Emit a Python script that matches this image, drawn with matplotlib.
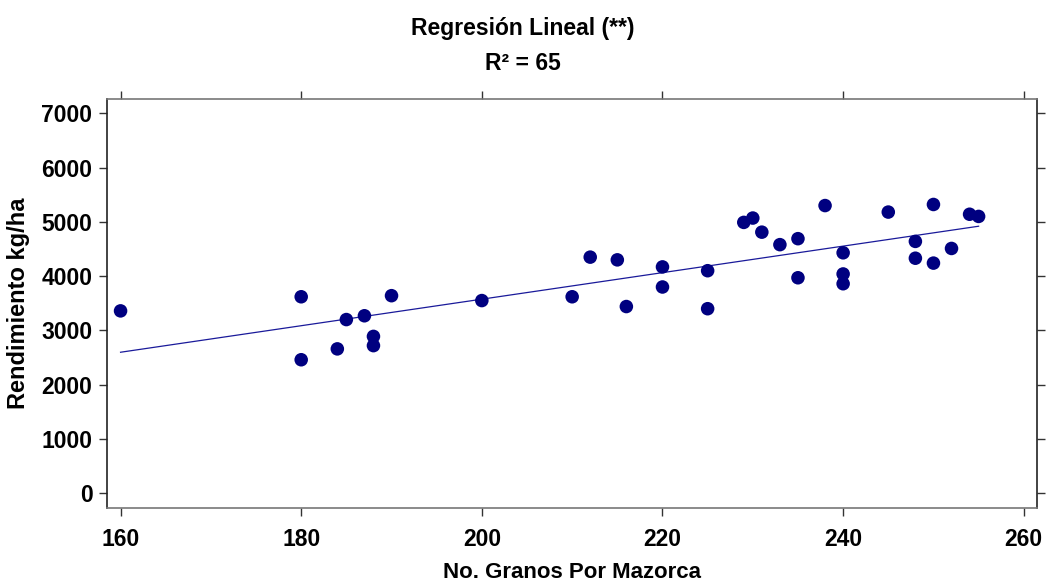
import numpy as np
import matplotlib
matplotlib.use("Agg")
import matplotlib.pyplot as plt

plt.rcParams['font.family'] = ['Liberation Sans', 'DejaVu Sans']
plt.rcParams['font.weight'] = 'bold'

# granos por mazorca vs rendimiento (kg/ha)
granos = [160, 180, 180, 184, 185, 187, 188, 188, 190, 200, 210, 212, 215, 216,
          220, 220, 225, 225, 229, 230, 231, 233, 235, 235, 238, 240, 240, 240,
          245, 248, 248, 250, 250, 252, 254, 255]
rendimiento = [3360, 3620, 2460, 2660, 3200, 3270, 2890, 2720, 3640, 3550, 3620, 4350,
               4300, 3440, 4170, 3800, 4100, 3400, 4990, 5070, 4810, 4580, 4690, 3970,
               5300, 4430, 4040, 3860, 5180, 4640, 4330, 5320, 4240, 4510, 5140, 5100]
x_ticks = [160, 180, 200, 220, 240, 260]
y_ticks = [0, 1000, 2000, 3000, 4000, 5000, 6000, 7000]

fig = plt.figure(figsize=(10.46, 5.83), dpi=100)
ax = fig.add_axes([0.1023, 0.1292, 0.8894, 0.701])

x = np.array(granos)
y = np.array(rendimiento)
b, a = np.polyfit(x, y, 1)
xl = np.array([x.min(), x.max()])
ax.plot(xl, a + b * xl, color='#1a1a9a', lw=0.9, zorder=2)
ax.scatter(x, y, s=95, color='#000080', edgecolors='none', zorder=3)

ax.set_xlim(158.5, 261.5)
ax.set_ylim(-265, 7263)
ax.set_xticks(x_ticks)
ax.set_yticks(y_ticks)
ax.tick_params(axis='both', which='both', direction='out', length=5.5, width=1,
               color='#333333', labelsize=16.5, top=True, right=True,
               labeltop=False, labelright=False)
ax.tick_params(axis='x', pad=9)
ax.tick_params(axis='y', pad=5)
for lab in ax.get_xticklabels() + ax.get_yticklabels():
    lab.set_fontweight('bold')
for s in ['left', 'right']:
    ax.spines[s].set_color('#222222')
for s in ['top', 'bottom']:
    ax.spines[s].set_color('#777777')
for s in ax.spines.values():
    s.set_linewidth(1.2)

ax.set_xlabel('No. Granos Por Mazorca', fontsize=16, fontweight='bold', labelpad=8)
ax.set_ylabel('Rendimiento kg/ha', fontsize=17, fontweight='bold', labelpad=8)

fig.text(0.5, 1 - 28 / 583, 'Regresión Lineal (**)', ha='center', va='center',
         fontsize=16.5, fontweight='bold')
fig.text(0.5, 1 - 63 / 583, 'R² = 65', ha='center', va='center',
         fontsize=16.5, fontweight='bold')

fig.savefig('out.png', dpi=100)
